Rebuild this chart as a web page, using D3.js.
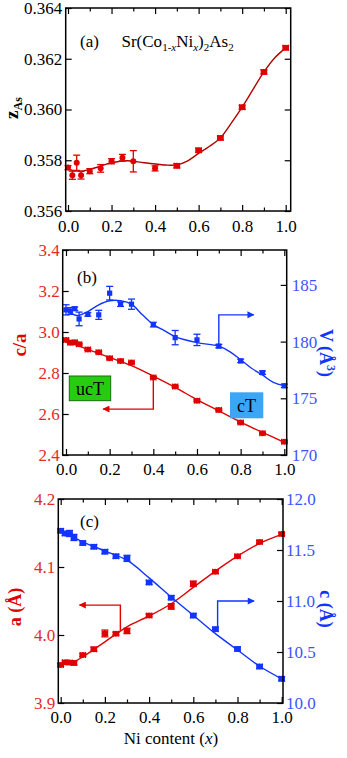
<!DOCTYPE html>
<html>
<head>
<meta charset="utf-8">
<script src="https://cdn.jsdelivr.net/npm/d3@7"></script>
<style>
  body { margin: 0; background: #fff; }
  svg, svg text { font-family: "Liberation Serif", "Times New Roman", serif; }
  .tick text { font-size: 17px; }
  .tick line { stroke: #000; stroke-width: 1.2; }
</style>
</head>
<body>
<div id="chart"></div>
<script>
// Ni content of the samples
const niX = [0, 0.02, 0.04, 0.06, 0.1, 0.15, 0.2, 0.25, 0.3, 0.4, 0.5, 0.6, 0.7, 0.8, 0.9, 1.0];

// (a) As position parameter
const zAs    = [0.35771, 0.35741, 0.35790, 0.35741, 0.35757, 0.35768, 0.35796, 0.35810, 0.35796, 0.35768, 0.35778, 0.35839, 0.35888, 0.36009, 0.36148, 0.36243];
const zAsErr = [0.00008, 0.00016, 0.00030, 0.00015, 0.00010, 0.00015, 0.00010, 0.00013, 0.00042, 0.00010, 0.00008, 0.00008, 0.00008, 0.00008, 0.00008, 0.00008];
const zAsXErr = [0, 0, 0, 0, 0, 0, 0, 0, 0, 0, 0.012, 0.012, 0.012, 0.012, 0.012, 0.012];
const fitXz  = [0, 0.05, 0.1, 0.15, 0.2, 0.27, 0.35, 0.45, 0.5, 0.55, 0.6, 0.65, 0.7, 0.75, 0.8, 0.85, 0.9, 0.95, 1.0];
const zAsFit = [0.35764, 0.35757, 0.35764, 0.35777, 0.35790, 0.35798, 0.35790, 0.35781, 0.35782, 0.35798, 0.35827, 0.35855, 0.35888, 0.35946, 0.36009, 0.36079, 0.36148, 0.36204, 0.36243];

// (b) c/a and cell volume
const cOverA    = [2.961, 2.948, 2.950, 2.940, 2.915, 2.901, 2.872, 2.859, 2.851, 2.778, 2.734, 2.665, 2.620, 2.558, 2.506, 2.465];
const cOverAErr = [0.004, 0.004, 0.004, 0.004, 0.004, 0.004, 0.004, 0.004, 0.004, 0.004, 0.004, 0.004, 0.004, 0.004, 0.004, 0.004];
const volume    = [182.8, 182.7, 182.9, 182.0, 182.4, 182.36, 184.27, 183.3, 183.3, 181.5, 180.35, 180.15, 179.6, 178.3, 177.26, 176.1];
const volumeErr = [0.45, 0.3, 0.15, 0.6, 0.15, 0.4, 0.6, 0.2, 0.45, 0.2, 0.63, 0.5, 0.15, 0.15, 0.15, 0.15];
const fitXca    = [0, 0.1, 0.2, 0.3, 0.4, 0.5, 0.6, 0.7, 0.8, 0.9, 1.0];
const cOverAFit = [2.957, 2.915, 2.876, 2.836, 2.785, 2.730, 2.670, 2.615, 2.560, 2.510, 2.462];
const fitXV     = [0, 0.05, 0.1, 0.15, 0.2, 0.25, 0.3, 0.35, 0.4, 0.45, 0.5, 0.6, 0.7, 0.75, 0.8, 0.85, 0.9, 0.95, 1.0];
const volumeFit = [182.8, 182.3, 182.65, 183.24, 183.6, 183.6, 183.3, 182.36, 181.5, 180.97, 180.44, 179.91, 179.6, 179.12, 178.4, 177.65, 177.06, 176.4, 176.1];

// (c) lattice parameters
const aLat    = [3.956, 3.960, 3.9594, 3.959, 3.9706, 3.979, 4.0023, 4.002, 4.006, 4.0286, 4.042, 4.0753, 4.093, 4.1157, 4.1367, 4.1484];
const aLatErr = [0.002, 0.002, 0.002, 0.003, 0.002, 0.003, 0.005, 0.002, 0.004, 0.002, 0.004, 0.004, 0.002, 0.002, 0.002, 0.002];
const cLat    = [11.688, 11.662, 11.662, 11.623, 11.568, 11.532, 11.484, 11.438, 11.418, 11.182, 11.033, 10.857, 10.724, 10.53, 10.357, 10.237];
const cLatErr = [0.02, 0.02, 0.03, 0.03, 0.02, 0.02, 0.02, 0.02, 0.03, 0.02, 0.02, 0.02, 0.02, 0.02, 0.02, 0.02];
const fitXa   = [0, 0.05, 0.1, 0.2, 0.3, 0.4, 0.5, 0.6, 0.7, 0.8, 0.9, 1.0];
const aLatFit = [3.957, 3.959, 3.968, 3.990, 4.012, 4.028, 4.046, 4.070, 4.094, 4.116, 4.1347, 4.148];
const fitXc   = [0, 0.1, 0.2, 0.3, 0.4, 0.5, 0.6, 0.7, 0.8, 0.9, 1.0];
const cLatFit = [11.685, 11.58, 11.49, 11.40, 11.227, 11.04, 10.86, 10.68, 10.52, 10.36, 10.237];

// arrows pointing to the axis each curve belongs to
const arrowCaX = [0.4, 0.4, 0.17],   arrowCaY = [2.778, 2.624, 2.624];
const arrowVX  = [0.7, 0.7, 0.86],   arrowVY  = [179.6, 182.36, 182.36];
const arrowAX  = [0.27, 0.27, 0.085], arrowAY = [4.007, 4.044, 4.044];
const arrowCX  = [0.71, 0.71, 0.875], arrowCY = [10.724, 11.0, 11.0];

// ticks
const xTicks = [0, 0.2, 0.4, 0.6, 0.8, 1.0];
const xMinor = [0.1, 0.3, 0.5, 0.7, 0.9];
const zTicks = [0.356, 0.358, 0.360, 0.362, 0.364];
const caTicks = [2.4, 2.6, 2.8, 3.0, 3.2, 3.4];
const vTicks = [170, 175, 180, 185];
const aTicks = [3.9, 4.0, 4.1, 4.2];
const cTicks = [10.0, 10.5, 11.0, 11.5, 12.0];

const FONT = "'Liberation Serif', 'Times New Roman', serif";
const RED = "#e00000", RED_TXT = "#e62828", DARK_RED = "#b00000";
const BLUE = "#1234ff", BLUE_TXT = "#3a55ff";

const svg = d3.select("#chart").append("svg")
  .attr("width", 347).attr("height", 758)
  .attr("font-family", FONT);

const defs = svg.append("defs");
[["arrRed", RED], ["arrBlue", BLUE]].forEach(([id, col]) => {
  defs.append("marker").attr("id", id)
    .attr("viewBox", "0 0 10 10").attr("refX", 9).attr("refY", 5)
    .attr("markerWidth", 9).attr("markerHeight", 7).attr("markerUnits", "userSpaceOnUse")
    .attr("orient", "auto")
    .append("path").attr("d", "M0,0L10,5L0,10z").attr("fill", col);
});

// d3 puts sans-serif on every axis group, take it back off
function cleanAxis(g) {
  g.select(".domain").remove();
  g.attr("font-family", FONT).attr("font-size", 17);
  g.selectAll("text").attr("font-family", FONT);
}

function xAxes(g, x, box, pad) {
  g.append("g").attr("transform", `translate(0,${box.bottom})`)
    .call(d3.axisBottom(x).tickValues(xTicks).tickFormat(d3.format(".1f"))
      .tickSizeInner(-6).tickSizeOuter(0).tickPadding(pad))
    .call(cleanAxis)
    .selectAll("text").attr("fill", "#000");
  g.append("g").attr("transform", `translate(0,${box.bottom})`)
    .call(d3.axisBottom(x).tickValues(xMinor).tickFormat("").tickSizeInner(-3.5).tickSizeOuter(0))
    .call(cleanAxis);
  g.append("g").attr("transform", `translate(0,${box.top})`)
    .call(d3.axisTop(x).tickValues(xTicks).tickFormat("").tickSizeInner(-6).tickSizeOuter(0))
    .call(cleanAxis);
  g.append("g").attr("transform", `translate(0,${box.top})`)
    .call(d3.axisTop(x).tickValues(xMinor).tickFormat("").tickSizeInner(-3.5).tickSizeOuter(0))
    .call(cleanAxis);
}

function yAxis(g, y, ticks, fmt, side, box, col, pad, labels = true) {
  const ax = side === "left" ? d3.axisLeft(y) : d3.axisRight(y);
  ax.tickValues(ticks).tickSizeInner(-6).tickSizeOuter(0).tickPadding(pad)
    .tickFormat(labels ? d3.format(fmt) : "");
  g.append("g").attr("transform", `translate(${side === "left" ? box.left : box.right},0)`)
    .call(ax).call(cleanAxis)
    .selectAll("text").attr("fill", col);
}

function frame(g, box) {
  g.append("rect").attr("x", box.left).attr("y", box.top)
    .attr("width", box.right - box.left).attr("height", box.bottom - box.top)
    .attr("fill", "none").attr("stroke", "#000").attr("stroke-width", 1.5);
}

function fitLine(g, xs, ys, x, y, col, w) {
  g.append("path")
    .datum(xs.map((d, i) => [d, ys[i]]))
    .attr("fill", "none").attr("stroke", col).attr("stroke-width", w)
    .attr("d", d3.line().x(d => x(d[0])).y(d => y(d[1])).curve(d3.curveCatmullRom.alpha(0.5)));
}

function points(g, ys, yErr, xErr, x, y, col, shape) {
  const pts = niX.map((d, i) => ({ x: d, y: ys[i], ey: yErr[i], ex: xErr ? xErr[i] : 0 }));
  const grp = g.append("g").attr("stroke", col).attr("fill", col).attr("stroke-width", 1.3);
  pts.forEach(p => {
    const px = x(p.x), py = y(p.y);
    const y1 = y(p.y - p.ey), y2 = y(p.y + p.ey);
    grp.append("line").attr("x1", px).attr("x2", px).attr("y1", y1).attr("y2", y2);
    [y1, y2].forEach(v => grp.append("line").attr("x1", px - 3.5).attr("x2", px + 3.5).attr("y1", v).attr("y2", v));
    if (p.ex > 0) {
      const x1 = x(p.x - p.ex), x2 = x(p.x + p.ex);
      grp.append("line").attr("x1", x1).attr("x2", x2).attr("y1", py).attr("y2", py);
      [x1, x2].forEach(v => grp.append("line").attr("x1", v).attr("x2", v).attr("y1", py - 3).attr("y2", py + 3));
    }
    if (shape === "square") {
      grp.append("rect").attr("x", px - 2.6).attr("y", py - 2.6).attr("width", 5.2).attr("height", 5.2).attr("stroke", "none");
    } else {
      grp.append("circle").attr("cx", px).attr("cy", py).attr("r", 3).attr("stroke", "none");
    }
  });
}

function arrow(g, xs, ys, x, y, col, id) {
  g.append("path")
    .datum(xs.map((d, i) => [d, ys[i]]))
    .attr("fill", "none").attr("stroke", col).attr("stroke-width", 1.4)
    .attr("marker-end", `url(#${id})`)
    .attr("d", d3.line().x(d => x(d[0])).y(d => y(d[1])));
}

// ---------- panel (a)
const boxA = { left: 65.7, right: 290.7, top: 8, bottom: 211 };
const xA = d3.scaleLinear().domain([0, 1]).range([68, 285.7]);
const yA = d3.scaleLinear().domain([0.356, 0.364]).range([boxA.bottom, boxA.top]);
const gA = svg.append("g");
xAxes(gA, xA, boxA, 9);
yAxis(gA, yA, zTicks, ".3f", "left", boxA, "#000", 3.5);
yAxis(gA, yA, zTicks, ".3f", "right", boxA, "#000", 3, false);
fitLine(gA, fitXz, zAsFit, xA, yA, DARK_RED, 1.4);
points(gA, zAs, zAsErr, zAsXErr, xA, yA, RED, "circle");
frame(gA, boxA);
gA.append("text").attr("x", 80).attr("y", 47).attr("font-size", 17).text("(a)");
const title = gA.append("text").attr("x", 121.5).attr("y", 47).attr("font-size", 17);
title.append("tspan").text("Sr(Co");
title.append("tspan").attr("font-size", 11).attr("dy", 4).text("1-");
title.append("tspan").attr("font-size", 11).attr("font-style", "italic").text("x");
title.append("tspan").attr("dy", -4).text("Ni");
title.append("tspan").attr("font-size", 11).attr("font-style", "italic").attr("dy", 4).text("x");
title.append("tspan").attr("dy", -4).text(")");
title.append("tspan").attr("font-size", 11).attr("dy", 4).text("2");
title.append("tspan").attr("dy", -4).text("As");
title.append("tspan").attr("font-size", 11).attr("dy", 4).text("2");
const zLab = svg.append("text").attr("transform", "translate(17.5,108) rotate(-90)")
  .attr("text-anchor", "middle").attr("font-weight", "bold").attr("font-size", 19);
zLab.append("tspan").text("z");
zLab.append("tspan").attr("font-size", 12).attr("dy", 4).text("As");

// ---------- panel (b)
const boxB = { left: 62.7, right: 286.7, top: 250, bottom: 455 };
const xB = d3.scaleLinear().domain([0, 1]).range([66, 284.3]);
const yB = d3.scaleLinear().domain([2.4, 3.4]).range([boxB.bottom, boxB.top]);
const yV = d3.scaleLinear().domain([170, 170 + 205 / 56.7 * 5]).range([boxB.bottom, boxB.top]);
const gB = svg.append("g");
xAxes(gB, xB, boxB, 7.5);
yAxis(gB, yB, caTicks, ".1f", "left", boxB, RED_TXT, 3);
yAxis(gB, yV, vTicks, "d", "right", boxB, BLUE_TXT, 5);
fitLine(gB, fitXca, cOverAFit, xB, yB, RED, 1.4);
fitLine(gB, fitXV, volumeFit, xB, yV, BLUE, 1.4);
points(gB, cOverA, cOverAErr, niX.map(() => 0.012), xB, yB, RED, "circle");
points(gB, volume, volumeErr, null, xB, yV, BLUE, "square");
arrow(gB, arrowCaX, arrowCaY, xB, yB, RED, "arrRed");
arrow(gB, arrowVX, arrowVY, xB, yV, BLUE, "arrBlue");
frame(gB, boxB);
gB.append("text").attr("x", 77).attr("y", 283).attr("font-size", 17).text("(b)");
gB.append("rect").attr("x", 69.3).attr("y", 376).attr("width", 41.4).attr("height", 24.7)
  .attr("fill", "#27cc10").attr("stroke", "#1a6a12").attr("stroke-width", 1);
gB.append("text").attr("x", 90).attr("y", 395).attr("text-anchor", "middle").attr("font-size", 18).text("ucT");
gB.append("rect").attr("x", 230).attr("y", 392.3).attr("width", 33.3).attr("height", 26)
  .attr("fill", "#3ba6f6");
gB.append("text").attr("x", 246.6).attr("y", 412).attr("text-anchor", "middle").attr("font-size", 18).text("cT");
svg.append("text").attr("transform", "translate(25.5,345) rotate(-90)")
  .attr("text-anchor", "middle").attr("font-weight", "bold").attr("font-size", 19)
  .attr("fill", RED).text("c/a");
const vLab = svg.append("text").attr("transform", "translate(320,353) rotate(90)")
  .attr("text-anchor", "middle").attr("font-weight", "bold").attr("font-size", 18).attr("fill", BLUE);
vLab.append("tspan").text("V (Å");
vLab.append("tspan").attr("font-size", 12).attr("dy", -7).text("3");
vLab.append("tspan").attr("dy", 7).text(")");

// ---------- panel (c)
const boxC = { left: 58.3, right: 283, top: 499, bottom: 703 };
const xC = d3.scaleLinear().domain([0, 1]).range([60.7, 281.7]);
const yCa = d3.scaleLinear().domain([3.9, 4.2]).range([boxC.bottom, boxC.top]);
const yCc = d3.scaleLinear().domain([10, 12]).range([boxC.bottom, boxC.top]);
const gC = svg.append("g");
xAxes(gC, xC, boxC, 7.5);
yAxis(gC, yCa, aTicks, ".1f", "left", boxC, RED_TXT, 3);
yAxis(gC, yCc, cTicks, ".1f", "right", boxC, BLUE_TXT, 3);
fitLine(gC, fitXa, aLatFit, xC, yCa, RED, 1.4);
fitLine(gC, fitXc, cLatFit, xC, yCc, BLUE, 1.4);
points(gC, aLat, aLatErr, niX.map(() => 0.012), xC, yCa, RED, "circle");
points(gC, cLat, cLatErr, niX.map(() => 0.012), xC, yCc, BLUE, "circle");
arrow(gC, arrowAX, arrowAY, xC, yCa, RED, "arrRed");
arrow(gC, arrowCX, arrowCY, xC, yCc, BLUE, "arrBlue");
frame(gC, boxC);
gC.append("text").attr("x", 80).attr("y", 526.5).attr("font-size", 17).text("(c)");
svg.append("text").attr("transform", "translate(21,607) rotate(-90)")
  .attr("text-anchor", "middle").attr("font-weight", "bold").attr("font-size", 18)
  .attr("fill", RED).text("a (Å)");
svg.append("text").attr("transform", "translate(320,609) rotate(90)")
  .attr("text-anchor", "middle").attr("font-weight", "bold").attr("font-size", 18)
  .attr("fill", BLUE).text("c (Å)");
const xLab = svg.append("text").attr("x", 171).attr("y", 744)
  .attr("text-anchor", "middle").attr("font-size", 17);
xLab.append("tspan").text("Ni content (");
xLab.append("tspan").attr("font-style", "italic").text("x");
xLab.append("tspan").text(")");
</script>
</body>
</html>
